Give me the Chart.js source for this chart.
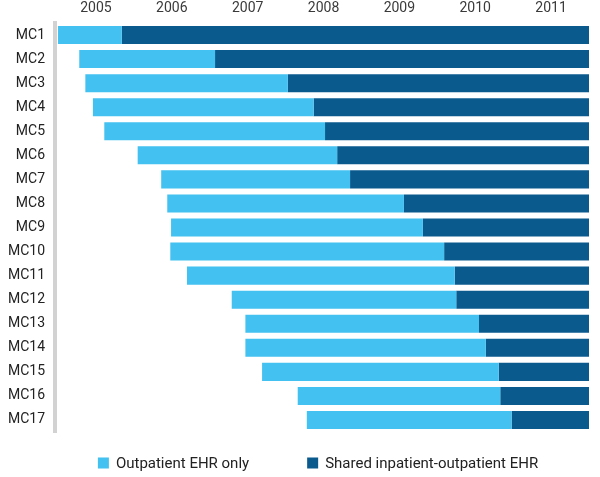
<!DOCTYPE html>
<html>
<head>
<meta charset="utf-8">
<script src="https://cdn.jsdelivr.net/npm/chart.js@4"></script>
<style>
  html, body { margin: 0; padding: 0; background: #fff; }
  #wrap { width: 600px; height: 477px; }
</style>
</head>
<body>
<div id="wrap"><canvas id="ehrChart"></canvas></div>
<script>
// medical centers, top to bottom
const centers = ["MC1", "MC2", "MC3", "MC4", "MC5", "MC6", "MC7", "MC8", "MC9",
  "MC10", "MC11", "MC12", "MC13", "MC14", "MC15", "MC16", "MC17"];
// when the outpatient EHR started (fractional year)
const outpatientStart = [2004.50, 2004.78, 2004.86, 2004.96, 2005.11, 2005.55, 2005.86, 2005.94, 2005.99,
  2005.98, 2006.20, 2006.79, 2006.97, 2006.97, 2007.19, 2007.66, 2007.78];
// when the shared inpatient-outpatient EHR started
const sharedStart = [2005.34, 2006.57, 2007.53, 2007.87, 2008.02, 2008.18, 2008.35, 2009.06, 2009.31,
  2009.59, 2009.73, 2009.75, 2010.05, 2010.14, 2010.31, 2010.33, 2010.48];
const timelineEnd = 2011.5;
const yearTicks = [2005, 2006, 2007, 2008, 2009, 2010, 2011];

const lightBlue = "#43c1f0";
const darkBlue = "#0a5a8e";
const font = "Roboto, 'Liberation Sans', sans-serif";

// legend drawn under the plot, items spread apart like the original
const bottomLegend = {
  id: "bottomLegend",
  afterDraw(chart) {
    const ctx = chart.ctx;
    const box = 11, gap = 7, itemGap = 58, y = 463;
    ctx.save();
    ctx.font = "15px " + font;
    ctx.textBaseline = "middle";
    const items = chart.data.datasets.map(ds => ({
      text: ds.label, color: ds.backgroundColor,
      w: box + gap + ctx.measureText(ds.label).width
    }));
    const total = items.reduce((s, it) => s + it.w, 0) + itemGap * (items.length - 1);
    let x = 318 - total / 2;
    items.forEach(it => {
      ctx.fillStyle = it.color;
      ctx.fillRect(x, y - box / 2, box, box);
      ctx.fillStyle = "#222";
      ctx.fillText(it.text, x + box + gap, y + 1);
      x += it.w + itemGap;
    });
    ctx.restore();
  }
};

new Chart(document.getElementById("ehrChart"), {
  type: "bar",
  data: {
    labels: centers,
    datasets: [
      {
        label: "Outpatient EHR only",
        data: centers.map((c, i) => [outpatientStart[i], sharedStart[i]]),
        backgroundColor: lightBlue
      },
      {
        label: "Shared inpatient-outpatient EHR",
        data: centers.map((c, i) => [sharedStart[i], timelineEnd]),
        backgroundColor: darkBlue
      }
    ]
  },
  options: {
    indexAxis: "y",
    responsive: true,
    maintainAspectRatio: false,
    animation: false,
    grouped: false,
    categoryPercentage: 1,
    barPercentage: 0.75,
    layout: { padding: { top: 0, right: 11, bottom: 45, left: 0 } },
    scales: {
      x: {
        type: "linear",
        position: "top",
        min: 2004.46,
        max: timelineEnd,
        grid: { display: false, drawTicks: false },
        border: { display: false },
        afterBuildTicks: (scale) => { scale.ticks = yearTicks.map(v => ({ value: v })); },
        afterFit: (scale) => { scale.height = 23; },
        ticks: {
          padding: 6,
          color: "#3a3a3a",
          font: { family: font, size: 14 },
          callback: (v) => String(v)
        }
      },
      y: {
        grid: { display: false, drawTicks: false },
        border: { color: "#d2d2d2", width: 4 },
        afterFit: (scale) => { scale.width = 55; },
        ticks: {
          padding: 10,
          color: "#222",
          font: { family: font, size: 14 }
        }
      }
    },
    plugins: {
      legend: { display: false },
      tooltip: { enabled: false }
    }
  },
  plugins: [bottomLegend]
});
</script>
</body>
</html>
